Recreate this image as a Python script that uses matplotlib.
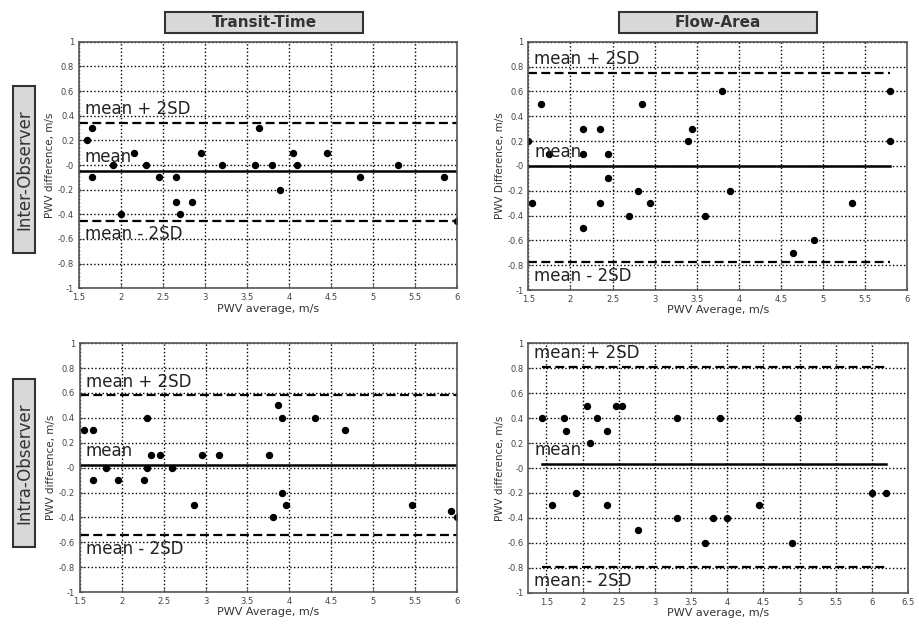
import matplotlib
matplotlib.use("Agg")
import matplotlib.pyplot as plt
from matplotlib.patches import Rectangle
import numpy as np

# Transit-Time, inter-observer
tt_inter_x = [1.6, 1.65, 1.65, 1.9, 2.0, 2.15, 2.3, 2.45, 2.65, 2.65, 2.7, 2.85, 2.95, 3.2, 3.6,
              3.65, 3.8, 3.9, 4.05, 4.1, 4.45, 4.85, 5.3, 5.85, 6.0]
tt_inter_y = [0.2, 0.3, -0.1, 0.0, -0.4, 0.1, 0.0, -0.1, -0.1, -0.3, -0.4, -0.3, 0.1, 0.0, 0.0,
              0.3, 0.0, -0.2, 0.1, 0.0, 0.1, -0.1, 0.0, -0.1, -0.45]
tt_inter_lines = [0.34, -0.05, -0.45]

# Flow-Area, inter-observer
fa_inter_x = [1.5, 1.54, 1.65, 1.74, 2.15, 2.15, 2.15, 2.35, 2.35, 2.45, 2.45, 2.7, 2.8, 2.85,
              2.95, 3.4, 3.45, 3.6, 3.8, 3.9, 4.65, 4.9, 5.35, 5.8, 5.8]
fa_inter_y = [0.2, -0.3, 0.5, 0.1, 0.3, 0.1, -0.5, 0.3, -0.3, 0.1, -0.1, -0.4, -0.2, 0.5,
              -0.3, 0.2, 0.3, -0.4, 0.6, -0.2, -0.7, -0.6, -0.3, 0.6, 0.2]
fa_inter_lines = [0.75, 0.0, -0.77]

# Transit-Time, intra-observer
tt_intra_x = [1.55, 1.66, 1.66, 1.81, 1.96, 2.26, 2.3, 2.3, 2.35, 2.46, 2.6, 2.86, 2.96, 3.16,
              3.76, 3.81, 3.86, 3.91, 3.91, 3.96, 4.31, 4.66, 5.46, 5.93, 6.0]
tt_intra_y = [0.3, 0.3, -0.1, 0.0, -0.1, -0.1, 0.4, 0.0, 0.1, 0.1, 0.0, -0.3, 0.1, 0.1,
              0.1, -0.4, 0.5, 0.4, -0.2, -0.3, 0.4, 0.3, -0.3, -0.35, -0.4]
tt_intra_lines = [0.58, 0.02, -0.54]

# Flow-Area, intra-observer
fa_intra_x = [1.44, 1.57, 1.74, 1.77, 1.91, 2.06, 2.1, 2.2, 2.34, 2.34, 2.46, 2.55, 2.76, 3.3,
              3.3, 3.69, 3.8, 3.9, 4.0, 4.44, 4.9, 4.98, 6.0, 6.2]
fa_intra_y = [0.4, -0.3, 0.4, 0.3, -0.2, 0.5, 0.2, 0.4, 0.3, -0.3, 0.5, 0.5, -0.5, 0.4,
              -0.4, -0.6, -0.4, 0.4, -0.4, -0.3, -0.6, 0.4, -0.2, -0.2]
fa_intra_lines = [0.81, 0.03, -0.79]

col_titles = ["Transit-Time", "Flow-Area"]
row_titles = ["Inter-Observer", "Intra-Observer"]

fig = plt.figure(figsize=(9.19, 6.24), dpi=100)

panels = [
    # rect, x, y, lines, xlim, line span, xticks, ylabel, xlabel
    ([0.086, 0.538, 0.411, 0.395], tt_inter_x, tt_inter_y, tt_inter_lines, (1.5, 6), (1.5, 6),
     np.arange(1.5, 6.01, 0.5), "PWV difference, m/s", "PWV average, m/s"),
    ([0.575, 0.535, 0.412, 0.398], fa_inter_x, fa_inter_y, fa_inter_lines, (1.5, 6), (1.5, 5.8),
     np.arange(1.5, 6.01, 0.5), "PWV Difference, m/s", "PWV Average, m/s"),
    ([0.087, 0.051, 0.410, 0.399], tt_intra_x, tt_intra_y, tt_intra_lines, (1.5, 6), (1.5, 6),
     np.arange(1.5, 6.01, 0.5), "PWV difference, m/s", "PWV Average, m/s"),
    ([0.575, 0.050, 0.413, 0.400], fa_intra_x, fa_intra_y, fa_intra_lines, (1.25, 6.5), (1.44, 6.2),
     np.arange(1.5, 6.51, 0.5), "PWV difference, m/s", "PWV average, m/s"),
]

for rect, xs, ys, lines, xlim, span, xt, ylab, xlab in panels:
    ax = fig.add_axes(rect)
    ax.set_xlim(*xlim)
    ax.set_ylim(-1, 1)
    ax.set_xticks(xt)
    ax.set_xticklabels(["%g" % v for v in xt])
    yt = np.round(np.arange(-1, 1.01, 0.2), 1)
    ax.set_yticks(yt)
    ax.set_yticklabels(["%g" % v for v in yt])
    ax.tick_params(labelsize=6, colors="#444444", length=2, direction="in")
    ax.grid(True, linestyle=":", color="black", linewidth=1.0)
    ax.set_axisbelow(True)
    for s in ax.spines.values():
        s.set_color("#555555")
        s.set_linewidth(1.2)
    ax.plot(span, [lines[0]] * 2, "k--", lw=1.6, dashes=(4, 2))
    ax.plot(span, [lines[1]] * 2, "k-", lw=1.8)
    ax.plot(span, [lines[2]] * 2, "k--", lw=1.6, dashes=(4, 2))
    ax.plot(xs, ys, "ko", ms=4.3)
    xl = xlim[0] + 0.015 * (xlim[1] - xlim[0])
    ax.text(xl, lines[0] + 0.04, "mean + 2SD", fontsize=12, va="bottom", ha="left", color="#222222")
    ax.text(xl, lines[1] + 0.04, "mean", fontsize=12, va="bottom", ha="left", color="#222222")
    ax.text(xl, lines[2] - 0.04, "mean - 2SD", fontsize=12, va="top", ha="left", color="#222222")
    ax.set_ylabel(ylab, fontsize=7.5, color="#333333", labelpad=2)
    ax.set_xlabel(xlab, fontsize=8, color="#333333", labelpad=1)

# column title boxes
for cx, t in zip([264 / 919, 718 / 919], col_titles):
    fig.patches.append(Rectangle((cx - 99 / 919, 1 - 33 / 624), 198 / 919, 21 / 624,
                                 transform=fig.transFigure, facecolor="#d9d9d9",
                                 edgecolor="#333333", lw=1.5))
    fig.text(cx, 1 - 22.5 / 624, t, ha="center", va="center", fontsize=11,
             fontweight="bold", color="#333333")

# row title boxes
for cy, t, h in zip([1 - 170 / 624, 1 - 463 / 624], row_titles, [167, 168]):
    fig.patches.append(Rectangle((13 / 919, cy - h / 2 / 624), 22 / 919, h / 624,
                                 transform=fig.transFigure, facecolor="#d9d9d9",
                                 edgecolor="#333333", lw=1.5))
    fig.text(24 / 919, cy, t, ha="center", va="center", rotation=90, fontsize=12,
             color="#333333")

fig.savefig("out.png", dpi=100)
